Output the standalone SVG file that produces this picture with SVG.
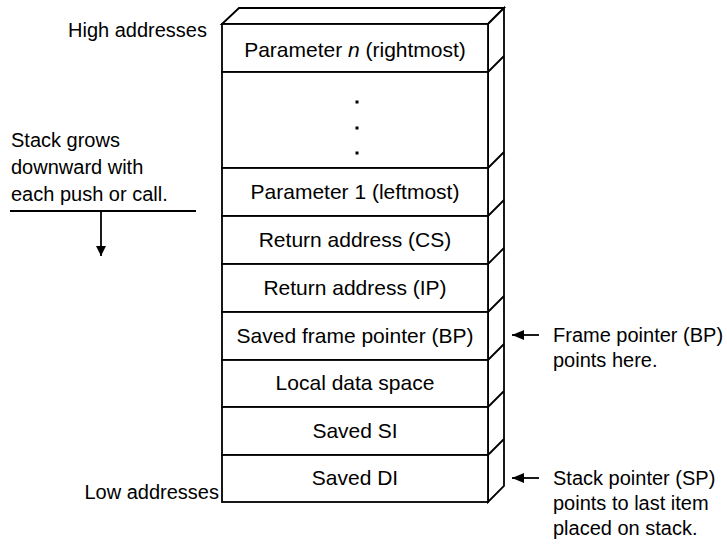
<svg xmlns="http://www.w3.org/2000/svg" width="727" height="548" viewBox="0 0 727 548">
<style>
text{font-family:"Liberation Sans",Arial,sans-serif;fill:#000}
.lbl{font-size:21px;text-anchor:middle}
.side{font-size:20px}
.cell{fill:#fff;stroke:#000;stroke-width:1.8}
.edge{fill:none;stroke:#000;stroke-width:1.8}
.conn{fill:none;stroke:#000;stroke-width:1.8}
</style>
<defs>
<marker id="ah" viewBox="0 0 10 10" refX="10" refY="5" markerWidth="10" markerHeight="11" markerUnits="userSpaceOnUse" orient="auto">
<path d="M0,0 L10,5 L0,10 z" fill="#000"/>
</marker>
<marker id="ahl" viewBox="0 0 12 10" refX="12" refY="5" markerWidth="13" markerHeight="10" markerUnits="userSpaceOnUse" orient="auto">
<path d="M0,0 L12,5 L0,10 z" fill="#000"/>
</marker>
</defs>
<rect width="727" height="548" fill="#fff"/>

<g id="stack-3d">
<polygon class="cell" points="222,24 239,8 504,8 488,24"/>
<polygon class="cell" points="488,24 504,8 504,486 488,502"/>
<path class="edge" d="M488,72 L504,56 M488,168 L504,152 M488,216 L504,200 M488,264 L504,248 M488,312 L504,296 M488,360 L504,344 M488,407 L504,391 M488,455 L504,439"/>
</g>

<g id="param-n">
<rect class="cell" x="222" y="24" width="266" height="48"/>
<text class="lbl" x="355" y="57">Parameter <tspan font-style="italic">n</tspan> (rightmost)</text>
</g>
<g id="params-ellipsis">
<rect class="cell" x="222" y="72" width="266" height="96"/>
<rect x="355.5" y="100.5" width="3" height="3" fill="#000"/>
<rect x="355.5" y="126.5" width="3" height="3" fill="#000"/>
<rect x="355.5" y="151.5" width="3" height="3" fill="#000"/>
</g>
<g id="param-1">
<rect class="cell" x="222" y="168" width="266" height="48"/>
<text class="lbl" x="355" y="199">Parameter 1 (leftmost)</text>
</g>
<g id="ret-cs">
<rect class="cell" x="222" y="216" width="266" height="48"/>
<text class="lbl" x="355" y="247">Return address (CS)</text>
</g>
<g id="ret-ip">
<rect class="cell" x="222" y="264" width="266" height="48"/>
<text class="lbl" x="355" y="295">Return address (IP)</text>
</g>
<g id="saved-bp">
<rect class="cell" x="222" y="312" width="266" height="48"/>
<text class="lbl" x="355" y="343">Saved frame pointer (BP)</text>
</g>
<g id="local-data">
<rect class="cell" x="222" y="360" width="266" height="47"/>
<text class="lbl" x="355" y="390">Local data space</text>
</g>
<g id="saved-si">
<rect class="cell" x="222" y="407" width="266" height="48"/>
<text class="lbl" x="355" y="438">Saved SI</text>
</g>
<g id="saved-di">
<rect class="cell" x="222" y="455" width="266" height="47"/>
<text class="lbl" x="355" y="485">Saved DI</text>
</g>

<g id="high-label">
<text class="side" x="68" y="37">High addresses</text>
</g>
<g id="low-label">
<text class="side" x="219" y="499" text-anchor="end">Low addresses</text>
</g>
<g id="grow-note">
<text class="side" x="11" y="147">Stack grows</text>
<text class="side" x="11" y="174">downward with</text>
<text class="side" x="11" y="201">each push or call.</text>
</g>
<g id="fp-note">
<text class="side" x="553" y="342">Frame pointer (BP)</text>
<text class="side" x="553" y="367">points here.</text>
</g>
<g id="sp-note">
<text class="side" x="553" y="485">Stack pointer (SP)</text>
<text class="side" x="553" y="510">points to last item</text>
<text class="side" x="553" y="535">placed on stack.</text>
</g>

<g id="connectors">
<line class="conn" x1="10" y1="211" x2="196" y2="211"/>
<line class="conn" x1="101" y1="211" x2="101" y2="256" marker-end="url(#ah)"/>
<line class="conn" x1="539" y1="335" x2="512" y2="335" marker-end="url(#ahl)"/>
<line class="conn" x1="539" y1="478" x2="512" y2="478" marker-end="url(#ahl)"/>
</g>
</svg>
